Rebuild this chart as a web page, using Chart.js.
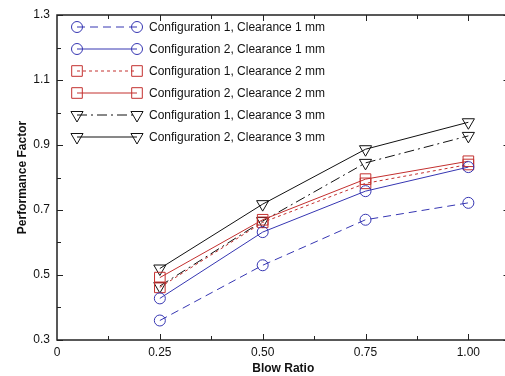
<!DOCTYPE html>
<html>
<head>
<meta charset="utf-8">
<script src="https://cdn.jsdelivr.net/npm/chart.js@4.4.0/dist/chart.umd.min.js"></script>
<style>
  html, body { margin: 0; padding: 0; background: #fff; }
  #wrap { width: 505px; height: 376px; overflow: hidden; }
</style>
</head>
<body>
<div id="wrap"><canvas id="chart" width="518" height="376"></canvas></div>
<script>
const blow_ratio = [0.25, 0.50, 0.75, 1.00];

const series_names = [
    'Configuration 1, Clearance 1 mm',
    'Configuration 2, Clearance 1 mm',
    'Configuration 1, Clearance 2 mm',
    'Configuration 2, Clearance 2 mm',
    'Configuration 1, Clearance 3 mm',
    'Configuration 2, Clearance 3 mm'
];

const conf1_clr1 = [0.36, 0.53, 0.67, 0.722];
const conf2_clr1 = [0.428, 0.632, 0.758, 0.832];
const conf1_clr2 = [0.462, 0.662, 0.782, 0.840];
const conf2_clr2 = [0.492, 0.670, 0.795, 0.850];
const conf1_clr3 = [0.466, 0.666, 0.845, 0.928];
const conf2_clr3 = [0.520, 0.718, 0.887, 0.970];

const x_tick_values = [0, 0.25, 0.50, 0.75, 1.00];
const x_tick_labels = ['0', '0.25', '0.50', '0.75', '1.00'];
const y_tick_values = [0.3, 0.5, 0.7, 0.9, 1.1, 1.3];
const y_tick_labels = ['0.3', '0.5', '0.7', '0.9', '1.1', '1.3'];
const x_minor = [0.125, 0.375, 0.625, 0.875];
const y_minor = [0.4, 0.6, 0.8, 1.0, 1.2];

const BLUE = '#3636b2';
const RED = '#c3302f';
const BLACK = '#111111';

function make_set(i, values, color, dash, style) {
    return {
        label: series_names[i],
        data: blow_ratio.map((x, k) => ({ x: x, y: values[k] })),
        borderColor: color,
        borderWidth: 1,
        borderDash: dash,
        pointStyle: style,
        pointRotation: style == 'triangle' ? 180 : 0,
        pointRadius: style == 'circle' ? 5.5 : (style == 'rect' ? 7.5 : 7),
        pointBorderColor: color,
        pointBackgroundColor: 'rgba(0,0,0,0)',
        pointBorderWidth: 1,
        tension: 0,
        fill: false
    };
}

const datasets = [
    make_set(0, conf1_clr1, BLUE, [8, 5], 'circle'),
    make_set(1, conf2_clr1, BLUE, [], 'circle'),
    make_set(2, conf1_clr2, RED, [3, 3], 'rect'),
    make_set(3, conf2_clr2, RED, [], 'rect'),
    make_set(4, conf1_clr3, BLACK, [10, 4, 2, 4], 'triangle'),
    make_set(5, conf2_clr3, BLACK, [], 'triangle')
];

function draw_marker(ctx, ds, x, y) {
    const r = ds.pointRadius;
    ctx.save();
    ctx.setLineDash([]);
    ctx.strokeStyle = ds.pointBorderColor;
    ctx.lineWidth = 1;
    ctx.beginPath();
    if (ds.pointStyle == 'circle') {
        ctx.arc(x, y, r, 0, Math.PI * 2);
    } else if (ds.pointStyle == 'rect') {
        const s = r * Math.SQRT1_2;
        ctx.rect(x - s, y - s, 2 * s, 2 * s);
    } else {
        const h = r * Math.sqrt(3) / 2;
        ctx.moveTo(x, y + r);
        ctx.lineTo(x - h, y - r / 2);
        ctx.lineTo(x + h, y - r / 2);
        ctx.closePath();
    }
    ctx.stroke();
    ctx.restore();
}

// frame, inward ticks and the legend box in the top-left corner
const frame_plugin = {
    id: 'frame',
    afterDraw(chart) {
        const ctx = chart.ctx;
        const a = chart.chartArea;
        const xs = chart.scales.x;
        const ys = chart.scales.y;
        ctx.save();
        ctx.strokeStyle = '#222';
        ctx.lineWidth = 1.5;
        ctx.strokeRect(a.left, a.top, a.right - a.left, a.bottom - a.top);
        ctx.lineWidth = 1;
        ctx.beginPath();
        x_tick_values.concat(x_minor).forEach((v) => {
            const len = x_minor.includes(v) ? 4 : 6;
            const px = Math.round(xs.getPixelForValue(v)) + 0.5;
            if (v == 0) return;
            ctx.moveTo(px, a.bottom); ctx.lineTo(px, a.bottom - len);
            ctx.moveTo(px, a.top); ctx.lineTo(px, a.top + len);
        });
        y_tick_values.concat(y_minor).forEach((v) => {
            const len = y_minor.includes(v) ? 4 : 6;
            const py = Math.round(ys.getPixelForValue(v)) + 0.5;
            ctx.moveTo(a.left, py); ctx.lineTo(a.left + len, py);
            ctx.moveTo(a.right, py); ctx.lineTo(a.right - len, py);
        });
        ctx.stroke();

        chart.data.datasets.forEach((ds, i) => {
            const y = 27 + i * 22;
            ctx.save();
            ctx.strokeStyle = ds.borderColor;
            ctx.lineWidth = 1;
            ctx.setLineDash(ds.borderDash);
            ctx.beginPath();
            ctx.moveTo(77, y);
            ctx.lineTo(137, y);
            ctx.stroke();
            ctx.restore();
            draw_marker(ctx, ds, 77, y);
            draw_marker(ctx, ds, 137, y);
            ctx.fillStyle = '#111';
            ctx.font = '12px "Liberation Sans", Arial, sans-serif';
            ctx.textBaseline = 'middle';
            ctx.textAlign = 'left';
            ctx.fillText(ds.label, 149, y + 1);
        });
        ctx.restore();
    }
};

new Chart(document.getElementById('chart'), {
    type: 'line',
    data: { datasets: datasets },
    options: {
        responsive: false,
        animation: false,
        devicePixelRatio: 1,
        layout: { padding: { top: 15, right: 0, left: 0, bottom: 0 } },
        plugins: {
            legend: { display: false },
            tooltip: { enabled: false }
        },
        scales: {
            x: {
                type: 'linear',
                min: 0,
                max: 1.1,
                afterFit: (s) => { s.height = 36; },
                grid: { display: false, drawTicks: false },
                border: { display: false },
                afterBuildTicks: (s) => { s.ticks = x_tick_values.map(v => ({ value: v })); },
                ticks: {
                    autoSkip: false,
                    maxRotation: 0,
                    padding: 5,
                    color: '#111',
                    font: { family: '"Liberation Sans", Arial, sans-serif', size: 12 },
                    callback: (v) => x_tick_labels[x_tick_values.indexOf(v)]
                },
                title: {
                    display: true,
                    text: 'Blow Ratio',
                    color: '#111',
                    padding: { top: 1, bottom: 0 },
                    font: { family: '"Liberation Sans", Arial, sans-serif', size: 12, weight: 'bold' }
                }
            },
            y: {
                min: 0.3,
                max: 1.3,
                afterFit: (s) => { s.width = 57; },
                grid: { display: false, drawTicks: false },
                border: { display: false },
                afterBuildTicks: (s) => { s.ticks = y_tick_values.map(v => ({ value: v })); },
                ticks: {
                    autoSkip: false,
                    padding: 7,
                    color: '#111',
                    font: { family: '"Liberation Sans", Arial, sans-serif', size: 12 },
                    callback: (v) => y_tick_labels[y_tick_values.indexOf(v)]
                },
                title: {
                    display: true,
                    text: 'Performance Factor',
                    color: '#111',
                    padding: { top: 15, bottom: 0 },
                    font: { family: '"Liberation Sans", Arial, sans-serif', size: 12, weight: 'bold' }
                }
            }
        }
    },
    plugins: [frame_plugin]
});
</script>
</body>
</html>
